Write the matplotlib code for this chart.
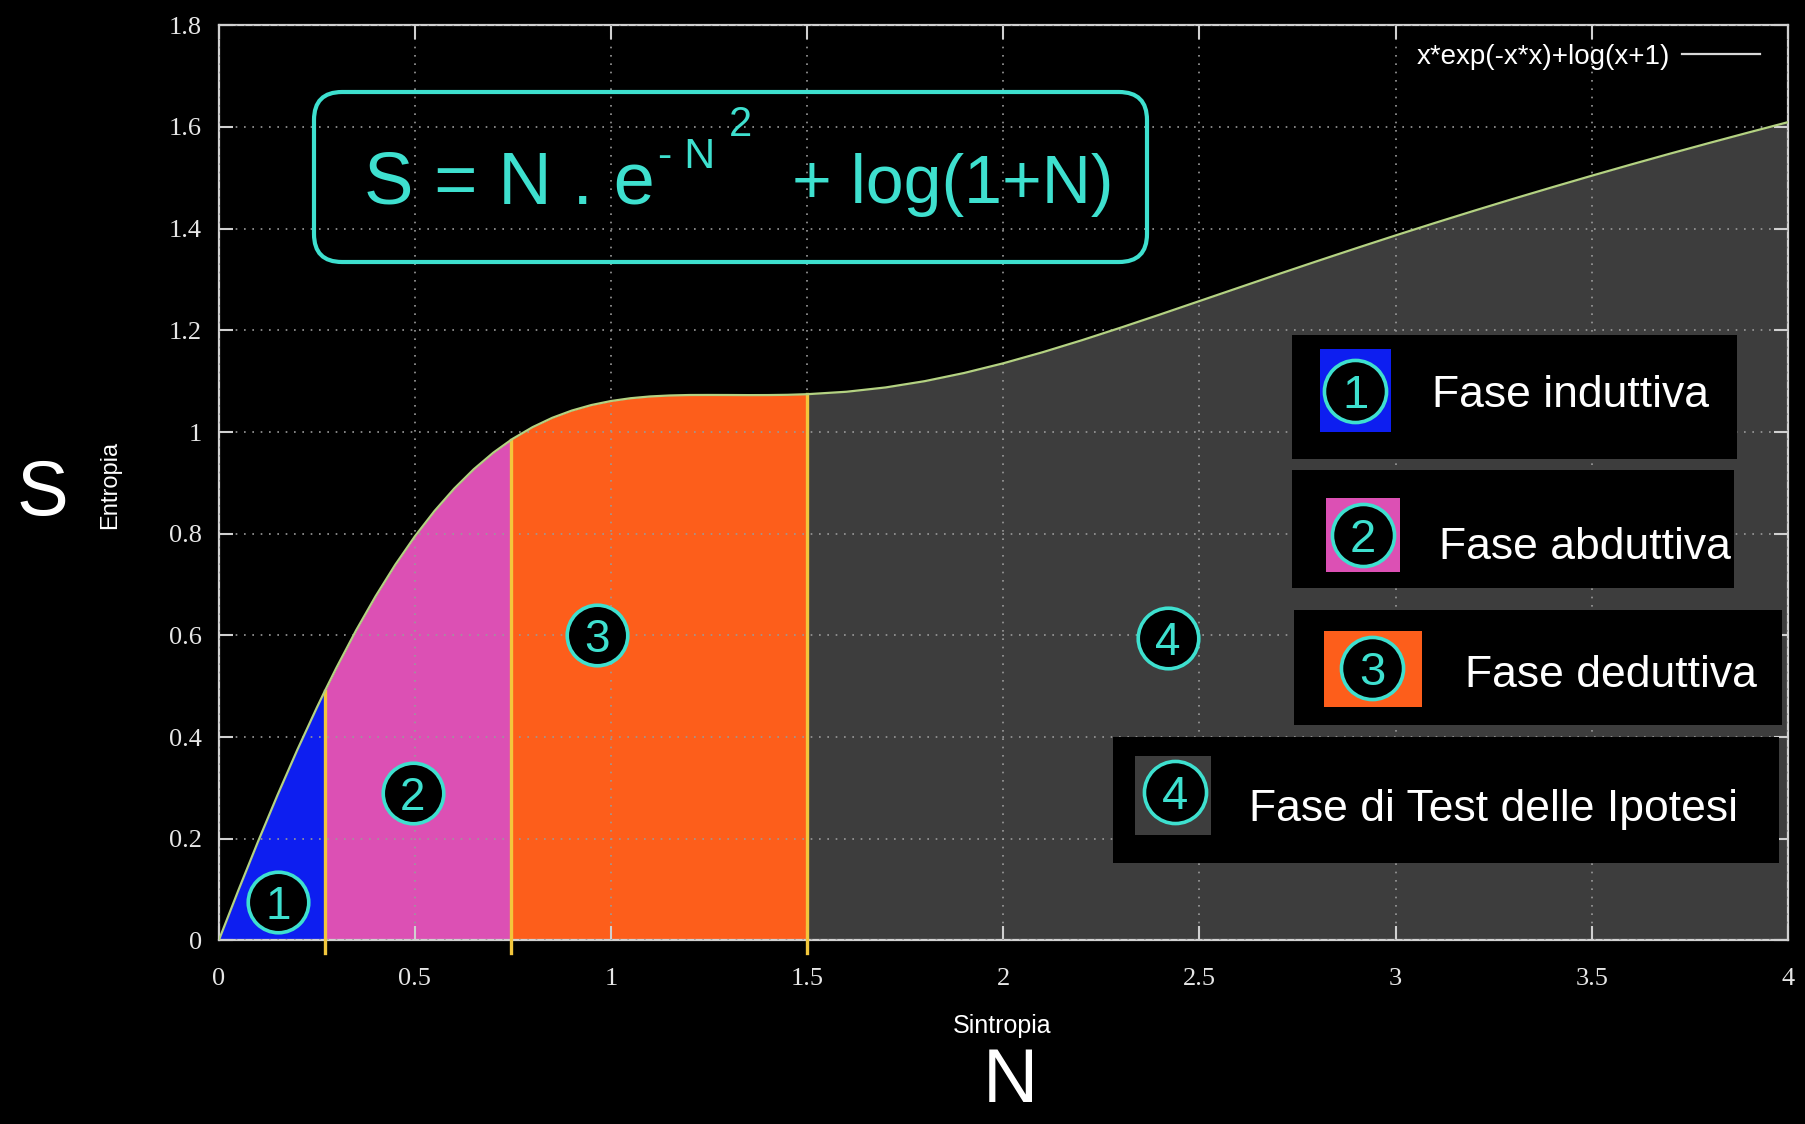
import numpy as np
import matplotlib.pyplot as plt
from matplotlib.patches import FancyBboxPatch, Rectangle
from matplotlib.lines import Line2D
from matplotlib.ticker import FormatStrFormatter, MultipleLocator

# entropia S in funzione della sintropia N
N = [0, 0.05, 0.1, 0.15, 0.2, 0.25, 0.27, 0.3, 0.35, 0.4, 0.45, 0.5, 0.55, 0.6, 0.65,
     0.7, 0.745, 0.75, 0.8, 0.85, 0.9, 0.95, 1.0, 1.05, 1.1, 1.15, 1.2, 1.25, 1.3, 1.35,
     1.4, 1.45, 1.5, 1.6, 1.7, 1.8, 1.9, 2.0, 2.1, 2.2, 2.3, 2.4, 2.5, 2.6, 2.7, 2.8,
     2.9, 3.0, 3.1, 3.2, 3.3, 3.4, 3.5, 3.6, 3.7, 3.8, 3.9, 4.0]
S = [0, 0.0987, 0.1943, 0.2864, 0.3745, 0.4580, 0.4900, 0.5365, 0.6098, 0.6773, 0.7391,
     0.7949, 0.8447, 0.8886, 0.9268, 0.9595, 0.9844, 0.9870, 1.0096, 1.0279, 1.0422,
     1.0531, 1.0610, 1.0665, 1.0700, 1.0719, 1.0728, 1.0729, 1.0728, 1.0726, 1.0727,
     1.0732, 1.0744, 1.0792, 1.0877, 1.1001, 1.1161, 1.1352, 1.1569, 1.1805, 1.2055,
     1.2313, 1.2576, 1.2839, 1.3102, 1.3361, 1.3616, 1.3867, 1.4112, 1.4352, 1.4587,
     1.4816, 1.5041, 1.5261, 1.5476, 1.5686, 1.5892, 1.6094]

phase_bounds = [0, 0.27, 0.745, 1.5, 4.0]
phase_colors = ["#0d1ef0", "#dc50b4", "#fd5e1b", "#3d3d3d"]
phase_names = ["Fase induttiva", "Fase abduttiva", "Fase deduttiva", "Fase di Test delle Ipotesi"]
phase_marks = ["1", "2", "3", "4"]
mark_x = [0.152, 0.494, 0.963, 2.42]
mark_y = [0.076, 0.29, 0.6, 0.594]

CYAN = "#3ee0cf"
N = np.array(N)
S = np.array(S)

fig = plt.figure(figsize=(18.05, 11.24), dpi=100, facecolor="black")
ax = fig.add_axes([0.1212, 0.1633, 0.8693, 0.8142], facecolor="black")

for i in range(4):
    lo, hi = phase_bounds[i], phase_bounds[i + 1]
    m = (N >= lo) & (N <= hi)
    ax.fill_between(N[m], 0, S[m], color=phase_colors[i], lw=0, zorder=1)

# separatori tra le fasi
for b in phase_bounds[1:4]:
    top = S[np.argmin(np.abs(N - b))]
    ax.plot([b, b], [-0.025, top], color="#f2c63c", lw=2.4, zorder=2.6, clip_on=False)

ax.plot(N, S, color="#b4d282", lw=1.6, zorder=3)

ax.scatter(mark_x, mark_y, s=1900, facecolor="black", edgecolor=CYAN, linewidth=2.6, zorder=4)
for k in range(4):
    ax.text(mark_x[k], mark_y[k], phase_marks[k], color=CYAN, fontsize=33,
            family="Liberation Sans", ha="center", va="center_baseline", zorder=5)

ax.set_xlim(0, 4)
ax.set_ylim(0, 1.8)
ax.xaxis.set_major_locator(MultipleLocator(0.5))
ax.yaxis.set_major_locator(MultipleLocator(0.2))
ax.xaxis.set_major_formatter(FormatStrFormatter("%g"))
ax.yaxis.set_major_formatter(FormatStrFormatter("%g"))
ax.tick_params(direction="in", top=True, right=True, length=10, width=1.5,
               color="#d0d0d0", labelcolor="#e6e6e6", labelsize=19)
ax.tick_params(axis="x", pad=20)
ax.tick_params(axis="y", pad=12)
for lab in ax.get_xticklabels() + ax.get_yticklabels():
    lab.set_family("Liberation Serif")
for sp in ax.spines.values():
    sp.set_color("#d0d0d0")
    sp.set_linewidth(1.6)
ax.set_axisbelow(False)
ax.grid(True, color="#9a9a9a", lw=1.2, linestyle=(0, (1, 4)))

ax.set_xlabel("Sintropia", color="white", fontsize=18, family="Liberation Sans", va="center")
ax.xaxis.set_label_coords(0.499, -0.094)
ax.set_ylabel("Entropia", color="white", fontsize=17, family="Liberation Sans", va="center")
ax.yaxis.set_label_coords(-0.0693, 0.498)

leg_line = Line2D([], [], color="#d8d8d8", lw=1.6)
ax.legend([leg_line], ["x*exp(-x*x)+log(x+1)"], loc="upper right", frameon=False,
          markerfirst=False, handlelength=2.8, handletextpad=0.45, borderpad=0,
          bbox_to_anchor=(1774 / 1805, 1 - 30 / 1124), bbox_transform=fig.transFigure,
          prop={"family": "Liberation Sans", "size": 20}, labelcolor="white")

# livello sovrapposto in pixel per formula, legenda delle fasi e lettere grandi
ov = fig.add_axes([0, 0, 1, 1])
ov.set_xlim(0, 1805)
ov.set_ylim(1124, 0)
ov.axis("off")

ov.add_patch(FancyBboxPatch((314, 92), 833, 170, boxstyle="round,pad=0,rounding_size=28",
                            fc="none", ec=CYAN, lw=3))
ov.text(364, 203, "S = N . e", color=CYAN, fontsize=53.5, family="Liberation Sans", va="baseline")
ov.text(658, 168, "- N", color=CYAN, fontsize=31, family="Liberation Sans", va="baseline")
ov.text(729, 136, "2", color=CYAN, fontsize=30, family="Liberation Sans", va="baseline")
ov.text(792, 203, "+ log(1+N)", color=CYAN, fontsize=49, family="Liberation Sans", va="baseline")

ov.text(42, 494, "S", color="white", fontsize=56, family="Liberation Sans", ha="center", va="center")
ov.text(1010, 1082, "N", color="white", fontsize=55, family="Liberation Sans", ha="center", va="center")

boxes = [(1292, 335, 445, 124), (1292, 470, 442, 118), (1294, 610, 488, 115), (1113, 737, 666, 126)]
squares = [(1320, 349, 71, 83), (1326, 498, 74, 74), (1324, 631, 98, 76), (1135, 756, 76, 79)]
circ = [(1355, 391), (1363, 535), (1372, 668), (1175, 792)]
text_x = [1432, 1439, 1465, 1249]
text_y = [391, 543, 671, 805]
for k in range(4):
    bx, by, bw, bh = boxes[k]
    ov.add_patch(Rectangle((bx, by), bw, bh, fc="black", ec="none"))
    sx, sy, sw, sh = squares[k]
    ov.add_patch(Rectangle((sx, sy), sw, sh, fc=phase_colors[k], ec="none"))
    ov.scatter([circ[k][0]], [circ[k][1]], s=2000, facecolor="black", edgecolor=CYAN,
               linewidth=2.6, zorder=4)
    ov.text(circ[k][0], circ[k][1], phase_marks[k], color=CYAN, fontsize=34,
            family="Liberation Sans", ha="center", va="center_baseline", zorder=5)
    ov.text(text_x[k], text_y[k], phase_names[k], color="white", fontsize=32,
            family="Liberation Sans", va="center_baseline")

fig.savefig("out.png", dpi=100, facecolor="black")
